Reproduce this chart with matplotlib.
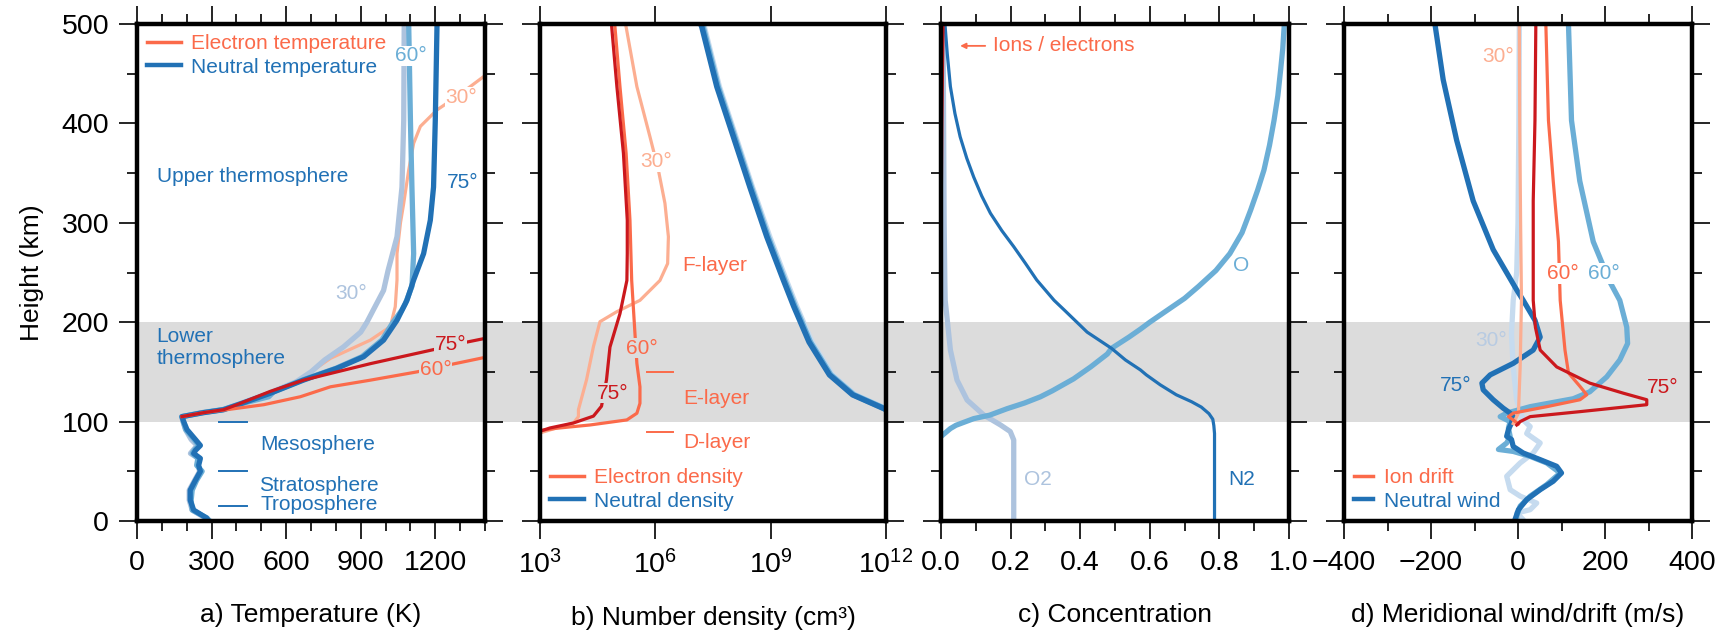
import numpy as np
import matplotlib
matplotlib.use("Agg")
import matplotlib.pyplot as plt
from matplotlib.lines import Line2D
from matplotlib.patches import Rectangle
from matplotlib.ticker import MultipleLocator, FixedLocator, NullLocator, FormatStrFormatter

plt.rcParams['font.family'] = ['Liberation Sans', 'DejaVu Sans']
plt.rcParams['mathtext.fontset'] = 'custom'
plt.rcParams['mathtext.rm'] = 'Liberation Sans'

# ---------------- colours ----------------
C_E30, C_E60, C_E75 = '#fcae91', '#fb6a4a', '#cb181d'
C_N30, C_N60, C_N75 = '#adc3de', '#6baed6', '#2171b5'
C_N30D = '#c6dbef'
C_TXT = '#2171b5'
BAND = '#dcdcdc'

# ---------------- panel a: temperature (K) ----------------
h_tn = [0, 3, 11, 21, 31, 41, 50, 56, 63, 68, 71, 76, 82, 92, 100, 105, 109, 112, 119,
        128.5, 141.8, 153.6, 165.3, 182, 202, 222, 242.5, 269, 302.6, 336, 403, 500]
tn75 = [288, 280, 228, 214, 214, 235, 255, 248, 255, 228, 235, 255, 235, 201, 188, 181, 268, 349, 429,
        536, 670, 804, 912, 992, 1046, 1086, 1113, 1153, 1180, 1193, 1200, 1207]
h_tn60 = [0, 3, 11, 21, 31, 41, 50, 56, 63, 68, 71, 76, 82, 92, 100, 105, 109, 112, 119,
          125, 130, 141.8, 153.6, 165.3, 182, 200, 212, 219, 236, 269, 336, 403, 500]
tn60 = [292, 282, 222, 218, 222, 240, 262, 240, 245, 222, 230, 248, 230, 196, 186, 180, 262, 345, 435,
        530, 550, 665, 800, 905, 985, 1030, 1065, 1080, 1106, 1113, 1106, 1100, 1093]
h_tn30 = [0, 3, 11, 21, 31, 41, 50, 56, 63, 68, 71, 76, 82, 92, 100, 105, 109, 112, 119,
          128.5, 140, 150, 162, 175, 190, 200, 212, 232, 252, 286, 336, 403, 500]
tn30 = [294, 275, 222, 210, 210, 232, 252, 245, 248, 215, 225, 242, 218, 195, 185, 180, 262, 345, 425,
        530, 640, 700, 755, 830, 900, 925, 950, 992, 1010, 1046, 1066, 1073, 1075]
h_te30 = [105, 109, 112, 119, 128.5, 141.8, 153.6, 163.6, 182, 195.5, 215.6, 242.5, 269, 300,
          319.6, 353, 380, 397, 413.6, 427, 447, 455]
te30 = [181, 268, 349, 429, 536, 660, 720, 778, 939, 1019, 1039, 1046, 1046, 1060,
        1073, 1093, 1113, 1140, 1207, 1287, 1394, 1440]
h_te60 = [105, 109, 112, 117, 125, 128.3, 135, 141.7, 150, 158, 164.3, 166]
te60 = [181, 268, 362, 510, 657, 697, 778, 939, 1126, 1273, 1394, 1430]
h_te75 = [105, 109, 112, 117, 130.4, 141.7, 150, 158.3, 171.7, 180, 183.4, 185]
te75 = [181, 268, 349, 402, 536, 670, 804, 939, 1180, 1327, 1394, 1430]
layer_bounds_a = [100, 50, 15]
layer_x_a = [329, 442]

# ---------------- panel b: number density (log10 of cm^-3) ----------------
h_ne30 = [88.6, 93.6, 98.6, 105, 112, 142, 175.5, 200.5, 210.6, 222, 242, 259, 286, 319.6, 353,
          386.6, 437, 497, 500]
ne30 = [3.0, 3.43, 3.87, 4.0, 4.0, 4.21, 4.39, 4.56, 5.0, 5.6, 6.12, 6.32, 6.34, 6.25, 6.08,
        5.86, 5.52, 5.24, 5.22]
h_ne60 = [91, 93.3, 96.6, 101.7, 108.4, 118.4, 135, 158.5, 188.6, 242, 302.6, 370, 437, 497, 500]
ne60 = [3.0, 3.43, 4.3, 5.26, 5.52, 5.6, 5.6, 5.52, 5.47, 5.385, 5.34, 5.24, 5.08, 4.95, 4.94]
h_ne75 = [90.3, 93.6, 98.6, 105.5, 115.5, 142, 175, 208.6, 242, 269, 302.6, 370, 437, 497, 500]
ne75 = [3.0, 3.26, 3.87, 4.39, 4.6, 4.73, 4.82, 5.08, 5.26, 5.27, 5.27, 5.17, 5.0, 4.865, 4.86]
h_nn = [112, 113, 127, 147, 180, 216, 242.5, 286, 336, 386.6, 437, 497, 500]
nn75 = [12.0, 11.95, 11.13, 10.53, 10.0, 9.6, 9.33, 8.9, 8.46, 8.03, 7.6, 7.21, 7.18]
nn60 = [12.0, 11.97, 11.16, 10.56, 10.03, 9.63, 9.36, 8.93, 8.49, 8.06, 7.63, 7.24, 7.21]
nn30 = [12.0, 11.99, 11.19, 10.6, 10.07, 9.67, 9.4, 8.97, 8.52, 8.09, 7.66, 7.27, 7.24]
layer_bounds_b = [150, 90]
layer_x_b = [5.78, 6.47]

# ---------------- panel c: concentration ----------------
h_o = [85, 88, 93, 96.3, 103, 106.5, 113, 118.7, 125, 131, 143, 155, 168, 173.7, 185, 193, 200,
       212, 224, 236, 252, 269, 290, 313, 333, 353, 378, 403, 428, 454, 475, 497, 500]
c_o = [0.0, 0.01, 0.027, 0.043, 0.094, 0.14, 0.19, 0.24, 0.286, 0.32, 0.381, 0.43, 0.478, 0.49,
       0.54, 0.573, 0.6, 0.65, 0.70, 0.74, 0.79, 0.83, 0.865, 0.89, 0.91, 0.928, 0.944, 0.957,
       0.968, 0.976, 0.982, 0.986, 0.987]
h_n2 = [0, 88, 96, 102.4, 108, 114.6, 120, 127, 137, 147, 152, 162, 173.7, 190, 212, 222, 242.5,
        259, 276, 292, 309.6, 327, 346, 365, 386.6, 410, 437, 470, 497, 500]
c_n2 = [0.786, 0.786, 0.784, 0.781, 0.77, 0.748, 0.72, 0.676, 0.63, 0.59, 0.573, 0.53, 0.49, 0.42,
        0.355, 0.325, 0.275, 0.243, 0.209, 0.175, 0.142, 0.117, 0.094, 0.074, 0.055, 0.04, 0.027,
        0.018, 0.012, 0.011]
h_o2 = [0, 81.5, 90, 96.6, 106.6, 121.7, 141.8, 172, 205.6, 222, 240.7, 300, 362, 500]
c_o2 = [0.209, 0.209, 0.199, 0.171, 0.123, 0.075, 0.046, 0.027, 0.017, 0.012, 0.011, 0.009, 0.008, 0.006]
h_ion = [200, 300, 400, 500]
c_ion = [0.0005, 0.002, 0.004, 0.0075]

# ---------------- panel d: meridional wind / drift (m/s) ----------------
h_v75 = [0, 1.3, 11.4, 21.5, 31.5, 40, 48.3, 55, 61.7, 68.4, 75, 82, 85.2, 92, 98.6, 105, 108.5,
         113.5, 122, 132, 138.7, 147, 158.6, 172, 185, 202, 222, 232.5, 273, 322, 383, 444, 500]
v75 = [-7, -7, 1, 20, 51, 81, 100, 89, 51, 12, -11, -15, -26, -22, -15, -11, -18,
       -34, -57, -80, -83, -64, -11, 35, 51, 39, 12, -3, -57, -103, -141, -172, -191]
h_v60 = [0, 5, 15, 25, 36.6, 48.3, 58.4, 65, 70, 72, 78.5, 85, 93.6, 100, 105, 108.5, 115, 123,
         130, 145, 162, 178.6, 195, 222, 240.7, 281, 342, 403, 500]
v60 = [-3, -3, 5, 28, 66, 97, 66, 28, -11, -45, -26, -18, -22, -18, -41, -26, 28, 127,
       165, 204, 234, 252, 250, 234, 211, 173, 142, 123, 116]
h_v30 = [0, 1.3, 8, 11.4, 18, 25, 31.5, 45, 58.4, 68.4, 78.5, 88, 95, 101.6, 122, 155, 188, 222,
         250, 300, 400, 500]
v30 = [12, 12, -3, 28, 43, 5, -18, -26, 5, 35, 51, 20, 28, 12, -3, -11, -15, -11, -3, 0, 2, 3]
h_i75 = [96.6, 100, 105, 110, 117, 122, 128.6, 138.7, 155, 172, 195, 222, 322, 403, 500]
i75 = [-3, 5, 28, 142, 296, 296, 242, 165, 89, 51, 40, 35, 35, 39, 41]
h_i60 = [97.6, 101.6, 105, 108.5, 115, 122, 127, 135.4, 149, 172, 222, 281, 342, 403, 500]
i60 = [1, -11, -22, -11, 66, 142.5, 158, 142.5, 116, 108, 97, 93, 81, 70, 64]
h_i30 = [98, 108.5, 155, 222, 300, 400, 500]
i30 = [-11, 1, 5, 8, 6, 4, 3]

xlabels = ['a) Temperature (K)', 'b) Number density (cm³)', 'c) Concentration',
           'd) Meridional wind/drift (m/s)']

# ---------------- figure ----------------
W, H = 1716, 631
fig = plt.figure(figsize=(W / 100, H / 100), dpi=100)
bottom = 1 - 521 / H
height = (521 - 24) / H
lefts = [137, 540, 941, 1344]
widths = [348, 346, 348, 348]
axes = [fig.add_axes([l / W, bottom, w / W, height]) for l, w in zip(lefts, widths)]
axa, axb, axc, axd = axes

# grey band (100-200 km) across all panels
band = Rectangle((lefts[0] / W, bottom + 0.2 * height), (1692 - lefts[0]) / W, 0.2 * height,
                 transform=fig.transFigure, facecolor=BAND, edgecolor='none', zorder=-1)
fig.patches.append(band)

TS = 20.5
LS = 19
AS = 15
for ax, lab in zip(axes, xlabels):
    ax.set_facecolor('none')
    ax.set_ylim(0, 500)
    for s in ax.spines.values():
        s.set_linewidth(3.2)
    ax.yaxis.set_major_locator(MultipleLocator(100))
    ax.yaxis.set_minor_locator(MultipleLocator(50))
    ax.tick_params(which='both', direction='out', top=True, right=True, width=1.2,
                   labelsize=TS, color='black')
    ax.tick_params(which='major', length=13)
    ax.tick_params(which='minor', length=7)
    ax.tick_params(axis='x', pad=8)
    ax.tick_params(axis='y', pad=7)
    ax.set_xlabel(lab, fontsize=LS, labelpad=19)
    if ax is not axa:
        ax.tick_params(axis='y', labelleft=False)

# ---- panel a ----
axa.set_xlim(0, 1400)
axa.xaxis.set_major_locator(MultipleLocator(300))
axa.xaxis.set_minor_locator(MultipleLocator(100))
axa.set_ylabel('Height (km)', fontsize=LS, labelpad=13)
axa.plot(te30, h_te30, color=C_E30, lw=2.3)
axa.plot(tn30, h_tn30, color=C_N30, lw=3.8)
axa.plot(tn60, h_tn60, color=C_N60, lw=3.8)
axa.plot(tn75, h_tn, color=C_N75, lw=3.8)
axa.plot(te60, h_te60, color=C_E60, lw=2.3)
axa.plot(te75, h_te75, color=C_E75, lw=2.3)
for hb in layer_bounds_a:
    axa.plot(layer_x_a, [hb, hb], color=C_TXT, lw=1.4)
wb = dict(facecolor='white', edgecolor='none', pad=0.5)
gb = dict(facecolor=BAND, edgecolor='none', pad=0.5)
axa.text(1039, 468, '60°', color=C_N60, fontsize=AS, va='center', bbox=wb)
axa.text(1240, 426, '30°', color=C_E30, fontsize=AS, va='center', bbox=wb)
axa.text(80, 347, 'Upper thermosphere', color=C_TXT, fontsize=AS, va='center')
axa.text(1247, 341, '75°', color=C_N75, fontsize=AS, va='center')
axa.text(798, 229, '30°', color=C_N30, fontsize=AS, va='center')
axa.text(78, 174.5, 'Lower\nthermosphere', color=C_TXT, fontsize=AS, va='center', linespacing=1.15)
axa.text(1199, 178, '75°', color=C_E75, fontsize=AS, va='center', bbox=gb)
axa.text(1139, 152, '60°', color=C_E60, fontsize=AS, va='center', bbox=gb)
axa.text(496, 76.5, 'Mesosphere', color=C_TXT, fontsize=AS, va='center')
axa.text(489, 36.2, 'Stratosphere', color=C_TXT, fontsize=AS, va='center')
axa.text(496, 17.1, 'Troposphere', color=C_TXT, fontsize=AS, va='center')
axa.legend(handles=[Line2D([], [], color=C_E60, lw=2.5), Line2D([], [], color=C_N75, lw=3.2)],
           labels=['Electron temperature', 'Neutral temperature'], loc='upper left',
           frameon=False, fontsize=AS, handlelength=1.6, handletextpad=0.5, labelspacing=0.2,
           borderaxespad=0.4, borderpad=0.1, labelcolor=[C_E60, C_N75])

# ---- panel b ----
axb.set_xscale('log')
axb.set_xlim(1e3, 1e12)
axb.xaxis.set_major_locator(FixedLocator([1e3, 1e6, 1e9, 1e12]))
axb.xaxis.set_minor_locator(NullLocator())
pw = lambda a: np.power(10.0, a)
axb.plot(pw(ne30), h_ne30, color=C_E30, lw=2.3)
axb.plot(pw(ne60), h_ne60, color=C_E60, lw=2.3)
axb.plot(pw(ne75), h_ne75, color=C_E75, lw=2.3)
axb.plot(pw(nn30), h_nn, color=C_N30D, lw=4.2)
axb.plot(pw(nn60), h_nn, color=C_N60, lw=4.2)
axb.plot(pw(nn75), h_nn, color=C_N75, lw=4.0)
for hb in layer_bounds_b:
    axb.plot(pw(np.array(layer_x_b)), [hb, hb], color=C_E60, lw=1.4)
axb.text(pw(5.6), 361.5, '30°', color=C_E30, fontsize=AS, va='center', bbox=wb)
axb.text(pw(6.71), 257.5, 'F-layer', color=C_E60, fontsize=AS, va='center')
axb.text(pw(5.24), 173.7, '60°', color=C_E60, fontsize=AS, va='center', bbox=gb)
axb.text(pw(4.47), 128.5, '75°', color=C_E75, fontsize=AS, va='center', bbox=gb)
axb.text(pw(6.73), 123.4, 'E-layer', color=C_E60, fontsize=AS, va='center')
axb.text(pw(6.73), 79, 'D-layer', color=C_E60, fontsize=AS, va='center')
axb.legend(handles=[Line2D([], [], color=C_E60, lw=2.5), Line2D([], [], color=C_N75, lw=3.2)],
           labels=['Electron density', 'Neutral density'], loc='lower left',
           frameon=False, fontsize=AS, handlelength=1.6, handletextpad=0.5, labelspacing=0.2,
           borderaxespad=0.4, borderpad=0.1, labelcolor=[C_E60, C_N75])

# ---- panel c ----
axc.set_xlim(0, 1)
axc.xaxis.set_major_locator(MultipleLocator(0.2))
axc.xaxis.set_minor_locator(MultipleLocator(0.1))
axc.xaxis.set_major_formatter(FormatStrFormatter('%.1f'))
axc.plot(c_o2, h_o2, color=C_N30, lw=3.8)
axc.plot(c_o, h_o, color=C_N60, lw=3.8)
axc.plot(c_n2, h_n2, color=C_N75, lw=2.3)
axc.plot(c_ion, h_ion, color=C_E75, lw=1.5)
axc.annotate('', xy=(0.055, 478), xytext=(0.127, 478),
             arrowprops=dict(arrowstyle='-|>', color=C_E60, lw=1.3, mutation_scale=8,
                             shrinkA=0, shrinkB=0))
axc.text(0.15, 478, 'Ions / electrons', color=C_E60, fontsize=AS, va='center')
axc.text(0.84, 257.5, 'O', color=C_N60, fontsize=AS, va='center')
axc.text(0.238, 42, 'O2', color=C_N30, fontsize=AS, va='center')
axc.text(0.825, 41.5, 'N2', color=C_N75, fontsize=AS, va='center')

# ---- panel d ----
axd.set_xlim(-400, 400)
axd.xaxis.set_major_locator(MultipleLocator(200))
axd.xaxis.set_minor_locator(MultipleLocator(100))
axd.plot(v30, h_v30, color=C_N30D, lw=3.8)
axd.plot(v60, h_v60, color=C_N60, lw=3.8)
axd.plot(v75, h_v75, color=C_N75, lw=3.8)
axd.plot(i30, h_i30, color=C_E30, lw=2.3)
axd.plot(i60, h_i60, color=C_E60, lw=2.3)
axd.plot(i75, h_i75, color=C_E75, lw=2.3)
axd.text(-83, 467, '30°', color=C_E30, fontsize=AS, va='center')
axd.text(66, 249, '60°', color=C_E60, fontsize=AS, va='center', bbox=wb)
axd.text(162, 249, '60°', color=C_N60, fontsize=AS, va='center', bbox=wb)
axd.text(-99, 181.7, '30°', color='#b8cbe2', fontsize=AS, va='center')
axd.text(-179, 136, '75°', color=C_N75, fontsize=AS, va='center')
axd.text(296, 134, '75°', color=C_E75, fontsize=AS, va='center')
axd.legend(handles=[Line2D([], [], color=C_E60, lw=2.5), Line2D([], [], color=C_N75, lw=3.2)],
           labels=['Ion drift', 'Neutral wind'], loc='lower left',
           frameon=False, fontsize=AS, handlelength=0.9, handletextpad=0.5, labelspacing=0.2,
           borderaxespad=0.4, borderpad=0.1, labelcolor=[C_E60, C_N75])

fig.savefig('out.png', dpi=100)
